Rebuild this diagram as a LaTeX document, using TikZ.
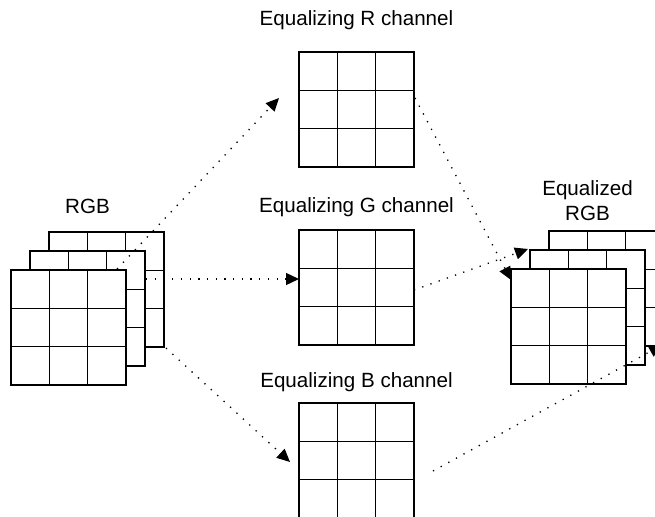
\documentclass[tikz,border=0pt]{standalone}
\usepackage{fontspec}
\setmainfont{Liberation Sans}
\usetikzlibrary{arrows.meta,calc}
\begin{document}
\begin{tikzpicture}[x=1pt,y=-1pt,
  cellgrid/.style={draw=black, fill=white, line width=1.6pt, minimum width=115pt, minimum height=115pt, inner sep=0pt, outer sep=0pt,
    path picture={
      \foreach \f in {0.3333,0.6667}{
        \draw[line width=1.6pt] ($(path picture bounding box.north west)!\f!(path picture bounding box.north east)$) -- ($(path picture bounding box.south west)!\f!(path picture bounding box.south east)$);
        \draw[line width=1.6pt] ($(path picture bounding box.north west)!\f!(path picture bounding box.south west)$) -- ($(path picture bounding box.north east)!\f!(path picture bounding box.south east)$);
      }}},
  lbl/.style={font=\fontsize{20.6}{25}\selectfont, inner sep=0pt, anchor=base, align=center},
  flow/.style={line width=1.3pt, dash pattern=on 1.3pt off 7.4pt, -{Triangle[length=13pt,width=12pt]}}
]
\useasboundingbox (0,0) rectangle (655,516);
\clip (0,0) rectangle (655,516);

% labels
\node[lbl] (tR) at (356.5,26) {Equalizing R channel};
\node[lbl] (tG) at (356.5,212) {Equalizing G channel};
\node[lbl] (tB) at (356.5,387) {Equalizing B channel};
\node[lbl] (tIn) at (87.5,213) {RGB};
\node[lbl] (tOut1) at (587.5,195) {Equalized};
\node[lbl] (tOut2) at (587.5,220) {RGB};

% input stack
\node[cellgrid] (inC) at (106.5,289.5) {};
\node[cellgrid] (inB) at (87.5,308.5) {};
\node[cellgrid] (inA) at (68.5,327.5) {};

% channel grids
\node[cellgrid] (R) at (356.5,109.5) {};
\node[cellgrid] (G) at (356.5,287.5) {};
\node[cellgrid] (B) at (356.5,460.5) {};

% output stack
\node[cellgrid] (outC) at (606.5,288.5) {};
\node[cellgrid] (outB) at (587.5,307.5) {};
\node[cellgrid] (outA) at (568.5,326.5) {};

% connector ends
\coordinate (s1) at (117,269);
\coordinate (e1) at (279,98);
\coordinate (s2) at (146,279);
\coordinate (e2) at (299,279);
\coordinate (s3) at (166,348);
\coordinate (e3) at (290,462);
\coordinate (s4) at (415,98);
\coordinate (e4) at (511,280);
\coordinate (s5) at (414,290);
\coordinate (e5) at (528,249);
\coordinate (s6) at (433,471);
\coordinate (e6) at (662,345);

\draw[flow] (s1) -- (e1);
\draw[flow] (s2) -- (e2);
\draw[flow] (s3) -- (e3);
\draw[flow] (s4) -- (e4);
\draw[flow] (s5) -- (e5);
\draw[flow] (s6) -- (e6);
\end{tikzpicture}
\end{document}
